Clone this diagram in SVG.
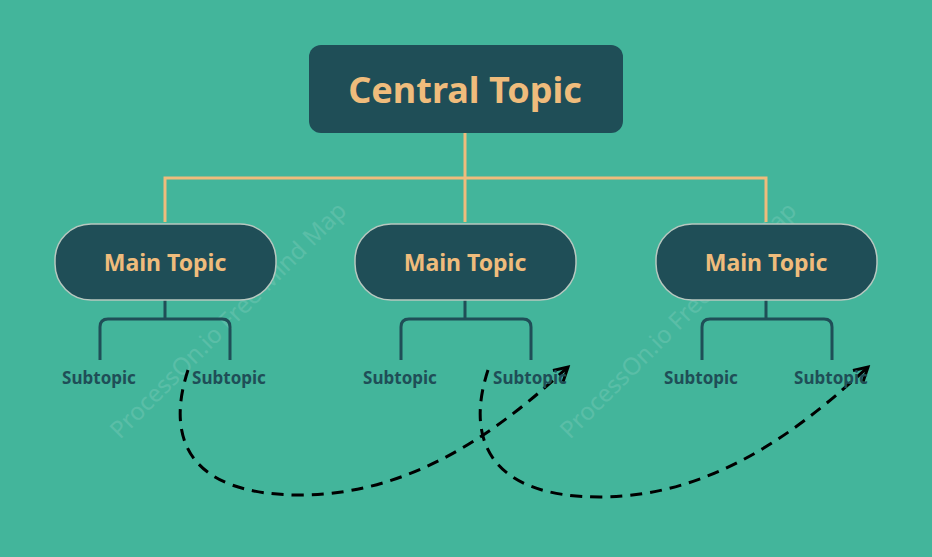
<svg xmlns="http://www.w3.org/2000/svg" width="932" height="557" viewBox="0 0 932 557">
<defs>
<style>
.t{font-family:"Noto Sans","Open Sans",sans-serif;font-weight:bold;text-anchor:middle}
.main rect{fill:#1f4e57;stroke:#b8c8c0;stroke-width:1.5}
.sub{fill:#1f4e57;font-size:17px}
.br{fill:none;stroke:#1f4e57;stroke-width:3}
.or{fill:none;stroke:#efbc7c;stroke-width:3}
.dash{fill:none;stroke:#000;stroke-width:3;stroke-dasharray:12 8}
.wm{font-family:"Noto Sans",sans-serif;font-size:24px;fill:#ffffff;opacity:0.12}
</style>
<marker id="arr" viewBox="0 0 12 12" refX="10" refY="6" markerWidth="6" markerHeight="6" orient="auto" markerUnits="strokeWidth"><path d="M1,1 L10,6 L1,11" fill="none" stroke="#000" stroke-width="2"/></marker>
</defs>
<rect width="932" height="557" fill="#43b59b"/>
<text class="wm" transform="translate(120,440) rotate(-45)">ProcessOn.io Free Mind Map</text>
<text class="wm" transform="translate(570,440) rotate(-45)">ProcessOn.io Free Mind Map</text>
<g id="connectors">
<path class="or" d="M465,133 V178 M165,222 V178 H766 V222 M465,178 V222"/>
<path class="br" d="M165,300 V319 M100,360 V327 Q100,319 108,319 H222 Q230,319 230,327 V360"/>
<path class="br" d="M465,300 V319 M401,360 V327 Q401,319 409,319 H523 Q531,319 531,327 V360"/>
<path class="br" d="M766,300 V319 M702,360 V327 Q702,319 710,319 H824 Q832,319 832,327 V360"/>
<path class="dash" marker-end="url(#arr)" d="M188,370 C165,440 190,495 300,495 C420,495 510,420 568,367"/>
<path class="dash" marker-end="url(#arr)" d="M488,370 C465,440 490,497 600,497 C720,497 810,420 868,367"/>
</g>
<g id="central"><rect x="309" y="45" width="314" height="88" rx="12" fill="#1f4e57"/><text class="t" x="465" y="103" font-size="36" fill="#efbc7c">Central Topic</text></g>
<g id="main1" class="main"><rect x="55" y="224" width="221" height="76" rx="36"/><text class="t" x="165" y="271" font-size="23" fill="#efbc7c">Main Topic</text></g>
<g id="main2" class="main"><rect x="355" y="224" width="221" height="76" rx="36"/><text class="t" x="465" y="271" font-size="23" fill="#efbc7c">Main Topic</text></g>
<g id="main3" class="main"><rect x="656" y="224" width="221" height="76" rx="36"/><text class="t" x="766" y="271" font-size="23" fill="#efbc7c">Main Topic</text></g>
<g id="s1"><text class="t sub" x="99" y="384">Subtopic</text></g>
<g id="s2"><text class="t sub" x="229" y="384">Subtopic</text></g>
<g id="s3"><text class="t sub" x="400" y="384">Subtopic</text></g>
<g id="s4"><text class="t sub" x="530" y="384">Subtopic</text></g>
<g id="s5"><text class="t sub" x="701" y="384">Subtopic</text></g>
<g id="s6"><text class="t sub" x="831" y="384">Subtopic</text></g>
</svg>
